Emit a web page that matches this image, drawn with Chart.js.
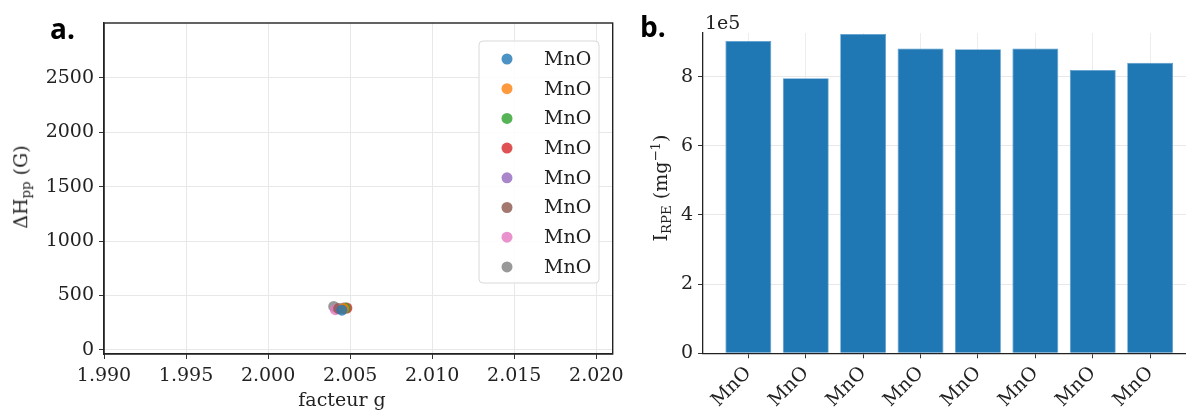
<!DOCTYPE html>
<html>
<head>
<meta charset="utf-8">
<script src="https://cdn.jsdelivr.net/npm/chart.js@4.4.1/dist/chart.umd.min.js"></script>
<style>
  body { margin: 0; width: 1186px; height: 412px; overflow: hidden; background: #fff; position: relative; font-family: "DejaVu Serif", serif; color: #222; }
  #wrapA { position: absolute; left: 0; top: 0; width: 630px; height: 412px; }
  #wrapB { position: absolute; left: 630px; top: 0; width: 570px; height: 412px; }
  .panel { position: absolute; font-family: "Open Sans", sans-serif; font-weight: bold; font-size: 28px; line-height: 1; color: #000; }
  .ytitle { position: absolute; transform: translate(-50%, -50%) rotate(-90deg); white-space: nowrap; font-size: 19px; line-height: 1; }
  .xtitle { position: absolute; transform: translate(-50%, -50%); white-space: nowrap; font-size: 19px; line-height: 1; }
  .ytitle sub { font-size: 70%; vertical-align: -0.25em; }
  .ytitle sup { font-size: 70%; vertical-align: 0.55em; }
  .offset { position: absolute; font-size: 19px; line-height: 1; }
</style>
</head>
<body>
<div id="wrapA"><canvas id="scatterG" width="630" height="412"></canvas></div>
<div id="wrapB"><canvas id="barRpe" width="570" height="412"></canvas></div>
<div class="panel" style="left:50px; top:14px;">a.</div>
<div class="panel" style="left:640px; top:12px;">b.</div>
<div class="ytitle" style="left:22px; top:187px;">ΔH<sub>pp</sub> (G)</div>
<div class="xtitle" style="left:342px; top:399px;">facteur g</div>
<div class="ytitle" style="left:661px; top:188px;">I<sub>RPE</sub> (mg<sup>−1</sup>)</div>
<div class="offset" style="left:705px; top:13px;">1e5</div>
<script>
// panel a: g factor vs peak-to-peak width
const sampleLabels = ['MnO', 'MnO', 'MnO', 'MnO', 'MnO', 'MnO', 'MnO', 'MnO'];
const gFactor = [2.0045, 2.0046, 2.0047, 2.0048, 2.0046, 2.0043, 2.0041, 2.0040];
const deltaHpp = [365, 380, 385, 385, 385, 380, 370, 400];
const gTicks = [1.990, 1.995, 2.000, 2.005, 2.010, 2.015, 2.020];
const hTicks = [0, 500, 1000, 1500, 2000, 2500];

// panel b: EPR intensity
const barLabels = ['MnO', 'MnO', 'MnO', 'MnO', 'MnO', 'MnO', 'MnO', 'MnO'];
const iRpe = [9.03e5, 7.95e5, 9.23e5, 8.81e5, 8.79e5, 8.81e5, 8.19e5, 8.40e5];
const iTicks = [0, 2e5, 4e5, 6e5, 8e5];

const tab10 = ['#1f77b4', '#ff7f0e', '#2ca02c', '#d62728', '#9467bd', '#8c564b', '#e377c2', '#7f7f7f'];

const serif = { family: '"DejaVu Serif", serif', size: 19 };

const boxPlugin = {
    id: 'box',
    afterDraw(chart) {
        const a = chart.chartArea, c = chart.ctx;
        c.save();
        c.strokeStyle = '#222';
        c.lineWidth = 1.4;
        c.strokeRect(a.left, a.top, a.right - a.left, a.bottom - a.top);
        c.restore();
    }
};

const innerLegend = {
    id: 'innerLegend',
    afterDraw(chart) {
        const c = chart.ctx;
        const x0 = 479, y0 = 41, w = 120, h = 242;
        c.save();
        c.beginPath();
        c.roundRect(x0, y0, w, h, 4);
        c.fillStyle = 'rgba(255,255,255,0.85)';
        c.fill();
        c.strokeStyle = '#d9d9d9';
        c.lineWidth = 1;
        c.stroke();
        c.font = '19px "DejaVu Serif", serif';
        c.textBaseline = 'middle';
        c.textAlign = 'left';
        chart.data.datasets.forEach((ds, i) => {
            const y = 59 + i * 29.7;
            c.beginPath();
            c.arc(507, y, 5.5, 0, Math.PI * 2);
            c.fillStyle = ds.backgroundColor;
            c.fill();
            c.fillStyle = '#222';
            c.fillText(ds.label, 544, y + 1);
        });
        c.restore();
    }
};

new Chart(document.getElementById('scatterG'), {
    type: 'scatter',
    data: {
        datasets: sampleLabels.map((l, i) => ({
            label: l,
            data: [{x: gFactor[i], y: deltaHpp[i]}],
            backgroundColor: tab10[i] + 'cc',
            borderWidth: 0,
            pointRadius: 5.5
        }))
    },
    options: {
        responsive: false,
        animation: false,
        layout: {padding: {left: 0, top: 23, right: 16, bottom: 0}},
        plugins: {legend: {display: false}, tooltip: {enabled: false}},
        scales: {
            x: {
                type: 'linear',
                min: 1.990,
                max: 2.021,
                afterBuildTicks: s => { s.ticks = gTicks.map(v => ({value: v})); },
                afterFit: s => { s.height = 58; },
                ticks: {font: serif, color: '#222', padding: 6, maxRotation: 0, callback: v => v.toFixed(3)},
                grid: {color: '#e8e8e8', tickColor: '#333', tickLength: 5},
                border: {color: '#222', width: 1.3}
            },
            y: {
                type: 'linear',
                min: -37,
                max: 3003,
                afterBuildTicks: s => { s.ticks = hTicks.map(v => ({value: v})); },
                afterFit: s => { s.width = 104; },
                ticks: {font: serif, color: '#222', padding: 5, callback: v => String(v)},
                grid: {color: '#e8e8e8', tickColor: '#333', tickLength: 5},
                border: {color: '#222', width: 1.3}
            }
        }
    },
    plugins: [boxPlugin, innerLegend]
});

new Chart(document.getElementById('barRpe'), {
    type: 'bar',
    data: {
        datasets: [{
            data: iRpe.map((v, i) => ({x: i, y: v})),
            backgroundColor: '#1f77b4',
            borderColor: '#5a9bd0',
            borderWidth: 0.8,
            categoryPercentage: 1,
            barPercentage: 0.8
        }]
    },
    options: {
        responsive: false,
        animation: false,
        layout: {padding: {left: 0, top: 33, right: 4.5, bottom: 0}},
        plugins: {legend: {display: false}, tooltip: {enabled: false}},
        scales: {
            x: {
                type: 'linear',
                offset: false,
                min: -0.79,
                max: 7.79,
                z: 1,
                afterBuildTicks: s => { s.ticks = barLabels.map((l, i) => ({value: i})); },
                afterFit: s => { s.height = 58.7; },
                ticks: {font: serif, color: '#222', padding: 4, autoSkip: false, maxRotation: 45, minRotation: 45,
                        callback: v => barLabels[v]},
                grid: {offset: false, color: 'rgba(0,0,0,0.07)', tickColor: '#333', tickLength: 5},
                border: {color: '#222', width: 1.3}
            },
            y: {
                type: 'linear',
                min: 0,
                max: 9.26e5,
                afterBuildTicks: s => { s.ticks = iTicks.map(v => ({value: v})); },
                afterFit: s => { s.width = 73; },
                ticks: {font: serif, color: '#222', padding: 5, callback: v => String(v / 1e5)},
                grid: {color: '#e8e8e8', tickColor: '#333', tickLength: 5},
                border: {color: '#222', width: 1.3}
            }
        }
    }
});
</script>
</body>
</html>
